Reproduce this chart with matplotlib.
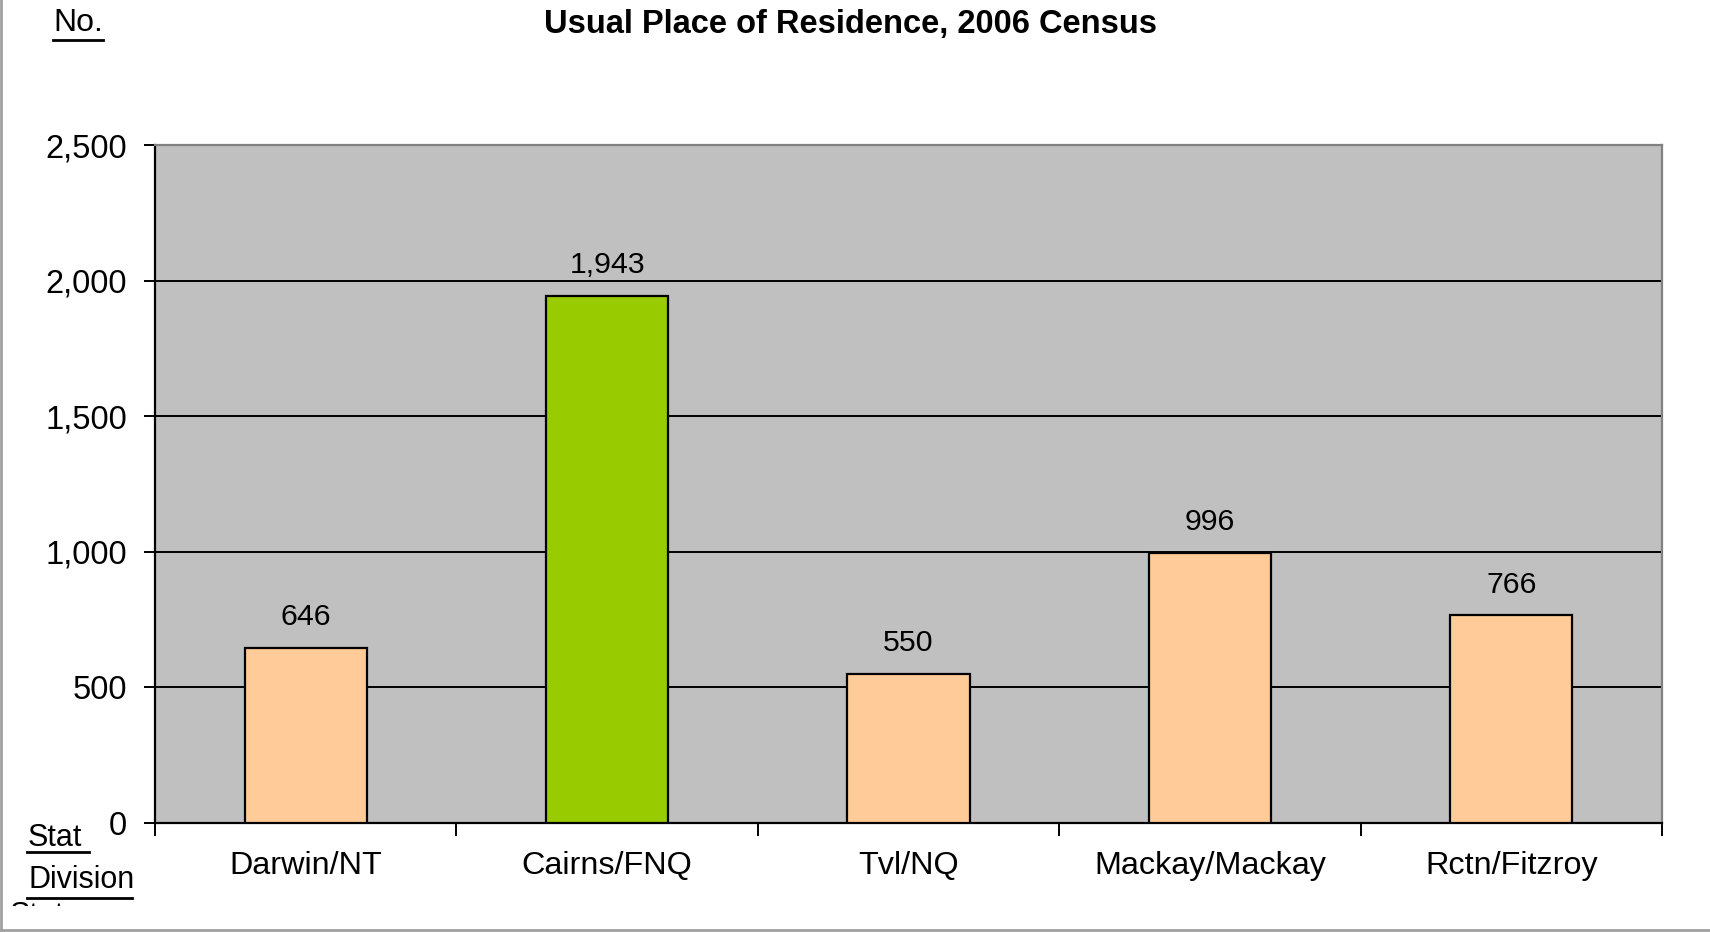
import matplotlib
matplotlib.use("Agg")
import matplotlib.pyplot as plt
from matplotlib.lines import Line2D
from matplotlib.ticker import FuncFormatter, FixedLocator
import matplotlib.transforms as mtransforms

# data
divisions = ["Darwin/NT", "Cairns/FNQ", "Tvl/NQ", "Mackay/Mackay", "Rctn/Fitzroy"]
residents = [646, 1943, 550, 996, 766]
bar_colors = ["#FFCC99", "#99CC00", "#FFCC99", "#FFCC99", "#FFCC99"]
y_ticks = [0, 500, 1000, 1500, 2000, 2500]

plt.rcParams['font.family'] = ['Liberation Sans', 'DejaVu Sans']

fig = plt.figure(figsize=(17.1, 9.32), dpi=100)
ax = fig.add_axes([155/1710, 1 - 823/932, (1662-155)/1710, (823-145)/932])
ax.set_facecolor("#C0C0C0")

x = list(range(len(divisions)))
bars = ax.bar(x, residents, width=0.405, color=bar_colors, edgecolor="black",
              linewidth=1.6, zorder=3)

for xi, v in zip(x, residents):
    ax.annotate(f"{v:,}", (xi, v), xytext=(0, 12), textcoords="offset points",
                ha="center", va="bottom", fontsize=21.8)

ax.set_xlim(-0.5, len(divisions) - 0.5)
ax.set_ylim(0, 2500)
ax.set_yticks(y_ticks)
ax.yaxis.set_major_formatter(FuncFormatter(lambda v, p: f"{int(v):,}"))
ax.grid(axis="y", color="black", linewidth=1.4, zorder=1)
ax.set_axisbelow(True)

# x ticks at category boundaries, labels at centres
ax.xaxis.set_major_locator(FixedLocator([i - 0.5 for i in range(len(divisions) + 1)]))
ax.xaxis.set_major_formatter(FuncFormatter(lambda v, p: ""))
ax.xaxis.set_minor_locator(FixedLocator(x))
ax.set_xticklabels(divisions, minor=True)
ax.tick_params(axis="x", which="major", direction="out", length=9, width=1.4)
ax.tick_params(axis="x", which="minor", length=0, pad=20, labelsize=23.3)
ax.tick_params(axis="y", direction="out", length=8, width=1.4, pad=12, labelsize=23.5)

for s in ["left", "bottom"]:
    ax.spines[s].set_color("black")
    ax.spines[s].set_linewidth(1.6)
for s in ["top", "right"]:
    ax.spines[s].set_color("#808080")
    ax.spines[s].set_linewidth(1.6)

fig.text(850/1710, 1 - 24/932, "Usual Place of Residence, 2006 Census",
         ha="center", va="center", fontsize=23.5, fontweight="bold")

# underlined side labels
fig.text(53/1710, 1 - 23/932, "No.", ha="left", va="center", fontsize=23)
fig.add_artist(Line2D([53/1710, 103/1710], [1 - 40/932, 1 - 40/932], color="black", lw=2))
fig.text(28/1710, 1 - 838/932, "Stat", ha="left", va="center", fontsize=22)
fig.add_artist(Line2D([27/1710, 89/1710], [1 - 852/932, 1 - 852/932], color="black", lw=2))
fig.text(28/1710, 1 - 880/932, "Division", ha="left", va="center", fontsize=22)
fig.add_artist(Line2D([27/1710, 132/1710], [1 - 898/932, 1 - 898/932], color="black", lw=2))
t = fig.text(10/1710, 1 - 901/932, "Stat", ha="left", va="top", fontsize=22)
t.set_clip_box(mtransforms.Bbox.from_extents(0, 932 - 906, 400, 932 - 899))
t.set_clip_on(True)

# outer frame (left and bottom visible)
fig.add_artist(Line2D([1/1710, 1/1710], [2/932, 1], color="#A0A0A0", lw=2))
fig.add_artist(Line2D([1/1710, 1], [2/932, 2/932], color="#A0A0A0", lw=2))

fig.savefig("out.png", dpi=100)
